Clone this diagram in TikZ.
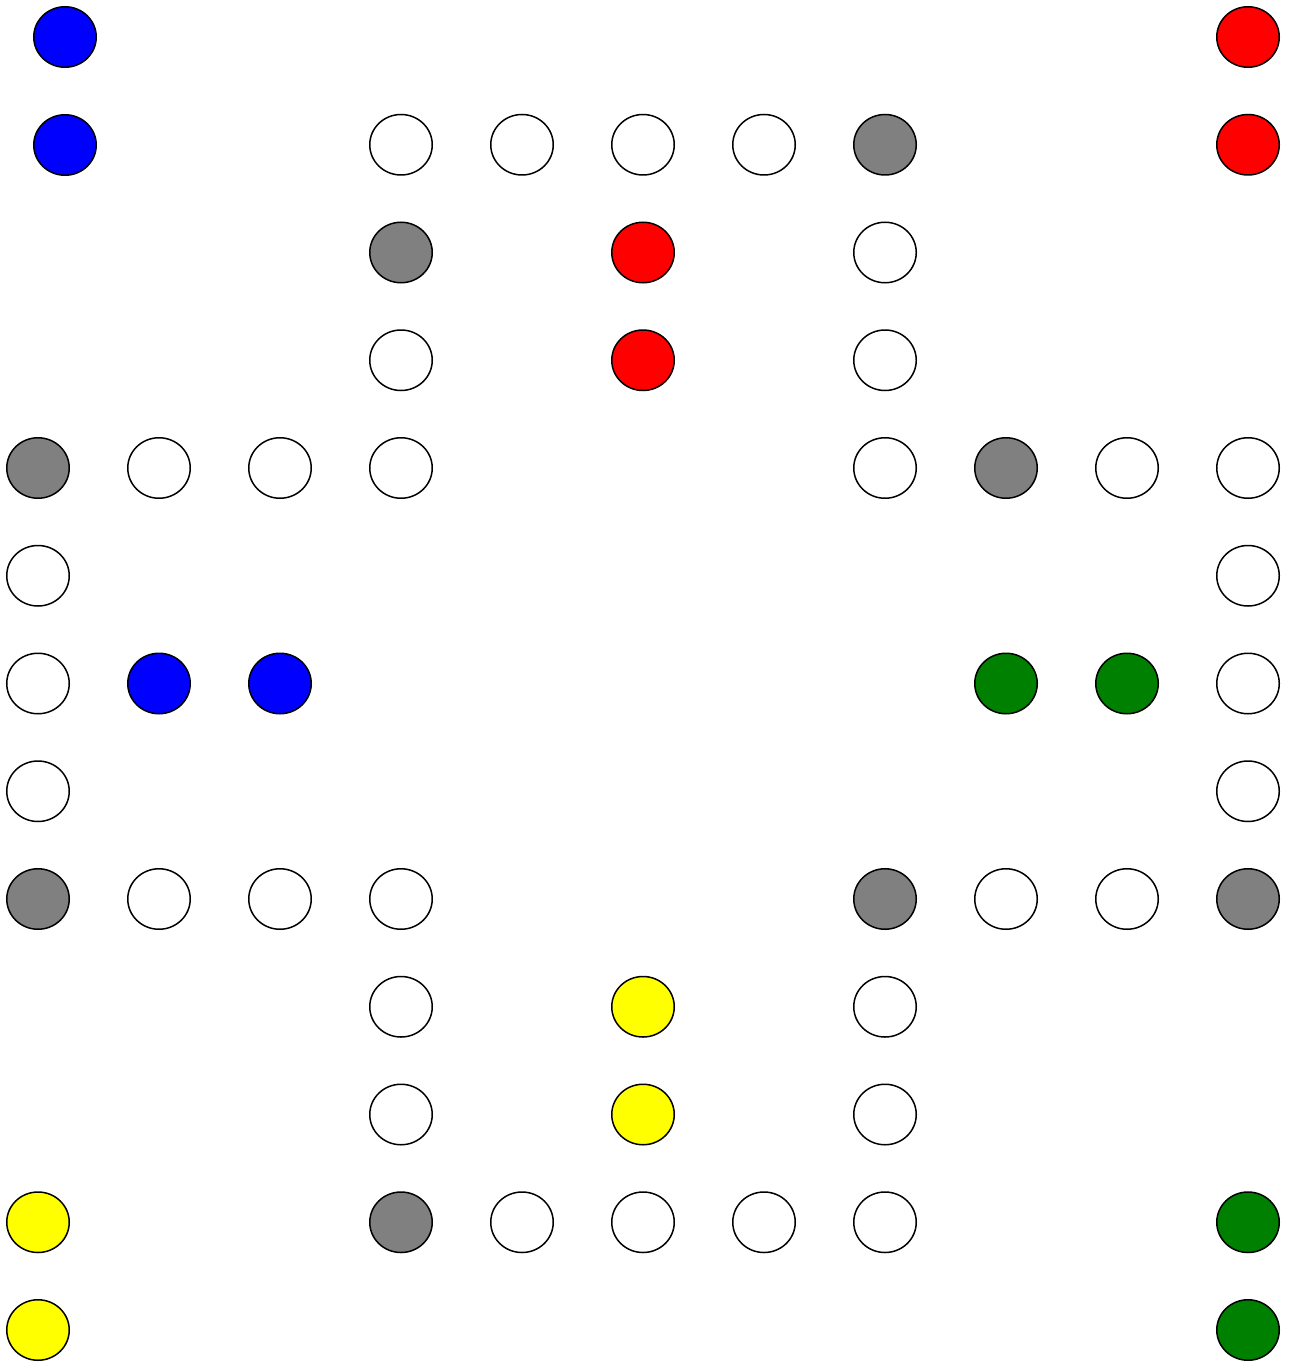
\documentclass[tikz,border=0pt]{standalone}
\usetikzlibrary{shapes.geometric}
\definecolor{pblue}{RGB}{0,0,255}
\definecolor{pred}{RGB}{255,0,0}
\definecolor{pgreen}{RGB}{0,128,0}
\definecolor{pyellow}{RGB}{255,255,0}
\definecolor{pgray}{RGB}{128,128,128}
\begin{document}
\begin{tikzpicture}[x=1pt,y=-1pt,
  field/.style={ellipse,draw=black,line width=1.5pt,minimum width=62.5pt,minimum height=60.5pt,inner sep=0pt}]
\useasboundingbox (0,0) rectangle (1292,1364);
% special home pieces (blue, offset column)
\node[field,fill=pblue] (b-0) at (65,37) {};
\node[field,fill=pblue] (b-1) at (65,145) {};
% grid fields: col/row/colour
\foreach \c/\r/\f in {
  10/0/pred,
  3/1/white, 4/1/white, 5/1/white, 6/1/white, 7/1/pgray, 10/1/pred,
  3/2/pgray, 5/2/pred, 7/2/white,
  3/3/white, 5/3/pred, 7/3/white,
  0/4/pgray, 1/4/white, 2/4/white, 3/4/white, 7/4/white, 8/4/pgray, 9/4/white, 10/4/white,
  0/5/white, 10/5/white,
  0/6/white, 1/6/pblue, 2/6/pblue, 8/6/pgreen, 9/6/pgreen, 10/6/white,
  0/7/white, 10/7/white,
  0/8/pgray, 1/8/white, 2/8/white, 3/8/white, 7/8/pgray, 8/8/white, 9/8/white, 10/8/pgray,
  3/9/white, 5/9/pyellow, 7/9/white,
  3/10/white, 5/10/pyellow, 7/10/white,
  0/11/pyellow, 3/11/pgray, 4/11/white, 5/11/white, 6/11/white, 7/11/white, 10/11/pgreen,
  0/12/pyellow, 10/12/pgreen}
  \node[field,fill=\f] (f-\c-\r) at ({38+121*\c},{37+107.75*\r}) {};
\end{tikzpicture}
\end{document}
